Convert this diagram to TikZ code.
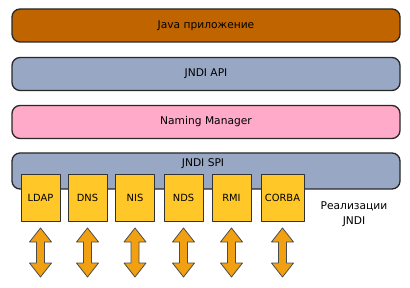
\documentclass[tikz,border=0pt]{standalone}
\usepackage{fontspec}
\setmainfont{DejaVu Sans}
\definecolor{appcol}{RGB}{192,100,0}
\definecolor{apicol}{RGB}{152,168,196}
\definecolor{mgrcol}{RGB}{255,170,200}
\definecolor{implcol}{RGB}{255,200,40}
\definecolor{arrcol}{RGB}{240,160,16}
\definecolor{edgecol}{RGB}{40,40,40}
\begin{document}
\begin{tikzpicture}[x=0.75pt,y=-0.75pt,font=\fontsize{8}{9}\selectfont, line join=round,
		layer/.style={draw=edgecol,line width=1pt,rounded corners=6pt,minimum width=291pt,minimum height=24.75pt,inner sep=0pt},
		impl/.style={draw=black!80,line width=0.6pt,fill=implcol,minimum width=29.25pt,minimum height=35.25pt,inner sep=0pt,font=\fontsize{7.4}{8}\selectfont}]
		\useasboundingbox (0,0) rectangle (410,288);
		\node[layer,fill=appcol] (app) at (206,25.5) {Java приложение};
		\node[layer,fill=apicol] (api) at (206,74) {JNDI API};
		\node[layer,fill=mgrcol] (mgr) at (206,122) {Naming Manager};
		\node[layer,fill=apicol,minimum height=27pt] (spi) at (206,171) {};
		\node (spilabel) at (203,164) {JNDI SPI};
		% implementations
		\foreach \cx/\w/\name in {40.5/29.25/LDAP,87.5/29.25/DNS,135/29.25/NIS,183.5/29.25/NDS,231.5/29.25/RMI,282.5/32.25/CORBA}{
			\node[impl,minimum width=\w pt] (\name) at (\cx,197.5) {\name};
			\draw[draw=black!70,line width=0.6pt,fill=arrcol] (\cx,228)--(\cx+11,242)--(\cx+4,242)--(\cx+4,263)--(\cx+11,263)--(\cx,277)--(\cx-11,263)--(\cx-4,263)--(\cx-4,242)--(\cx-11,242)--cycle;
		}
		\node[align=center,font=\fontsize{8}{11.25}\selectfont] (impltext) at (354,214.5) {Реализации\\JNDI};
		\end{tikzpicture}
\end{document}
